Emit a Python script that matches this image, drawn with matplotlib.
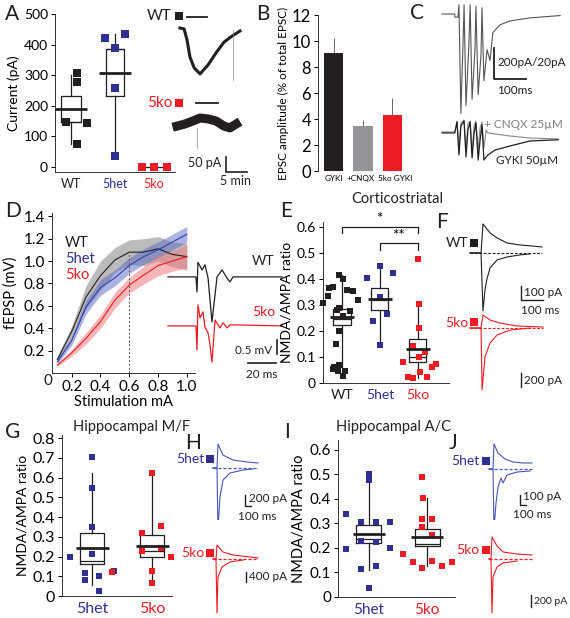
import numpy as np
import matplotlib
matplotlib.use("Agg")
import matplotlib.pyplot as plt

W, H = 570, 618
BLACK = "#231f20"
BLUE = "#2e3192"
RED = "#ed1c24"
GREY = "#939598"
TBLUE = "#4a55b8"

plt.rcParams['font.family'] = ['Lato', 'DejaVu Sans']

# ---- A: current per genotype
a_names = ["WT", "5het", "5ko"]
a_wt = [307, 278, 147, 144, 75]
a_het = [422, 435, 389, 258, 36]
a_ko = [0, 0, 0]
a_q1 = [147, 232]
a_q3 = [232, 386]
a_lo = [75, 36]
a_hi = [300, 434]

# A inset time course (min, pA)
a_wt_t = [9.5, 10.5, 11.2, 11.9, 12.9, 14.3, 16.2, 18.1, 20.0, 21.9, 23.8]
a_wt_i = [0, -3, -40, -97, -133, -153, -123, -83, -47, -27, -10]
a_ko_t = [8.8, 10.7, 12.6, 14.3, 16.2, 18.1, 20.0, 21.4, 22.9]
a_ko_i = [-327, -320, -310, -300, -303, -310, -327, -333, -320]

# ---- B: EPSC amplitude
b_names = ["GYKI", "+CNQX", "5ko GYKI"]
b_vals = [9.1, 3.45, 4.3]
b_err = [1.1, 0.45, 1.3]

# ---- C: trains (ms, pA)
c_t = [0, 40, 40, 50, 53, 59, 66, 69, 75, 84, 88, 94, 103, 106, 113, 122, 125, 131, 141, 150, 159, 181, 212, 275, 369]
c_i = [0, 0, -20, -20, 60, -640, -170, 60, -590, -200, 60, -550, -230, 50, -520, -260, 40, -430, -230, -300, -120, -70, -45, -25, -10]
c_low_t = [0, 40, 47, 53, 59, 69, 75, 81, 88, 94, 100, 106, 113, 119, 125, 131, 138, 144, 166, 213, 275, 363]
c_cnqx = [0, 0, 7.1, -11.6, 5.8, 7.7, -12.9, 5.2, 7.1, -13.5, 3.9, 7.1, -11.6, 2.6, 6.5, -10.3, 1.3, -0.6, -1.3, -2.6, -3.9, -4.5]
c_gyki = [-0.6, -0.6, 6.5, -14.8, 3.9, 7.1, -16.1, 1.3, 6.5, -16.8, -1.3, 5.8, -18.1, -5.2, 4.5, -18.1, -16.1, -14.8, -11.6, -9.0, -5.8, -5.0]

# ---- D: input-output curves
d_x = [0.1, 0.2, 0.3, 0.4, 0.5, 0.6, 0.7, 0.8, 0.9, 1.0]
d_wt = [0.12, 0.37, 0.68, 0.87, 1.01, 1.08, 1.08, 1.11, 1.06, 1.04]
d_wt_sem = [0.03, 0.05, 0.10, 0.13, 0.11, 0.11, 0.12, 0.11, 0.11, 0.12]
d_het = [0.10, 0.29, 0.59, 0.765, 0.85, 0.96, 1.04, 1.10, 1.17, 1.24]
d_het_sem = [0.02, 0.04, 0.06, 0.07, 0.07, 0.07, 0.07, 0.07, 0.07, 0.07]
d_ko = [0.07, 0.18, 0.31, 0.46, 0.65, 0.785, 0.875, 0.96, 1.00, 1.04]
d_ko_sem = [0.01, 0.03, 0.05, 0.06, 0.07, 0.07, 0.08, 0.09, 0.09, 0.10]
# D inset fEPSP (ms, mV)
d_wt_t = [0, 20, 20.7, 21.4, 24.3, 26.4, 28.6, 31.4, 35, 38.6, 42.1, 44.3, 46.4, 81.4]
d_wt_v = [0, 0, -0.54, 0.52, 0.25, 0.43, -0.04, -1.61, 0, 0.25, -0.04, -0.18, 0, 0]
d_ko_t = [0, 20, 20.7, 21.4, 22.9, 25, 26.4, 28.6, 30, 31.4, 33.6, 37.1, 39.3, 42.1, 44.3, 81.4]
d_ko_v = [0, 0, -0.86, 0.75, 0.29, 0.5, -0.04, -0.25, -0.68, -1.29, 0.21, -0.07, 0.11, -0.07, 0.04, 0]

# ---- E: corticostriatal NMDA/AMPA
e_names = ["WT", "5het", "5ko"]
e_wt = [0.415, 0.40, 0.37, 0.365, 0.358, 0.355, 0.335, 0.32, 0.31, 0.29, 0.28,
        0.276, 0.257, 0.20, 0.15, 0.07, 0.062, 0.054, 0.047, 0.047, 0.028]
e_het = [0.45, 0.405, 0.423, 0.33, 0.265, 0.24, 0.145]
e_ko = [0.477, 0.304, 0.212, 0.142, 0.118, 0.10, 0.08, 0.073, 0.063, 0.043, 0.022, 0.02, 0.022]
e_q1 = [0.223, 0.28, 0.081]
e_med = [0.245, 0.32, 0.10]
e_q3 = [0.285, 0.365, 0.17]
e_mean = [0.253, 0.323, 0.13]
e_lo = [0.028, 0.145, 0.02]
e_hi = [0.415, 0.45, 0.304]

# F traces (ms, pA)
f_t_up = [0, 50, 59, 91, 123, 168, 227, 327]
f_wt_up = [0, 0, 207, 143, 107, 71, 57, 43]
f_t_dn = [0, 50, 59, 68, 77, 91, 123, 168, 227, 273]
f_wt_dn = [0, 0, -414, -264, -186, -107, -50, -29, -14, -7]
f_ko_t_up = [0, 50, 59, 91, 136, 214, 332]
f_ko_up = [0, 0, 186, 114, 71, 29, 14]
f_ko_t_dn = [0, 50, 55, 68, 91, 123, 182, 273]
f_ko_dn = [0, 0, -886, -414, -214, -100, -29, 0]

# ---- G: hippocampal M/F
g_names = ["5het", "5ko"]
g_het = [0.706, 0.547, 0.352, 0.215, 0.197, 0.117, 0.083, 0.10, 0.125, 0.024]
g_ko = [0.625, 0.32, 0.355, 0.23, 0.243, 0.197, 0.12, 0.125, 0.068]
g_q1 = [0.16, 0.197]
g_med = [0.175, 0.228]
g_q3 = [0.318, 0.31]
g_mean = [0.245, 0.255]
g_lo = [0.055, 0.068]
g_hi = [0.625, 0.625]

# H traces (ms, pA)
h_het_t_up = [0, 67, 83, 167, 333, 567, 750]
h_het_up = [0, 0, 436, 236, 145, 109, 91]
h_het_t_dn = [0, 67, 83, 117, 167, 283, 500, 667]
h_het_dn = [0, 0, -1109, -527, -218, -91, -36, -18]
h_ko_t_up = [0, 50, 67, 167, 333, 617, 750]
h_ko_up = [0, 0, 560, 280, 160, 80, 40]
h_ko_t_dn = [0, 50, 67, 83, 150, 283, 500]
h_ko_dn = [0, 0, -2160, -720, -320, -120, -40]

# ---- I: hippocampal A/C
i_het = [0.502, 0.475, 0.339, 0.306, 0.306, 0.306, 0.23, 0.225, 0.196, 0.20, 0.126, 0.114, 0.036]
i_ko = [0.49, 0.404, 0.32, 0.316, 0.287, 0.252, 0.175, 0.144, 0.146, 0.118, 0.127, 0.142]
i_q1 = [0.22, 0.208]
i_med = [0.237, 0.215]
i_q3 = [0.294, 0.278]
i_mean = [0.257, 0.244]
i_lo = [0.11, 0.126]
i_hi = [0.475, 0.405]

# J traces (ms, pA)
j_het_t_up = [0, 67, 83, 150, 267, 400, 567, 717]
j_het_up = [0, 0, 250, 160, 100, 70, 60, 60]
j_het_t_dn = [0, 67, 83, 117, 150, 200, 233, 300, 467, 683]
j_het_dn = [0, 0, -600, -340, -180, -90, -140, -60, -30, -20]
j_ko_t_up = [0, 33, 50, 133, 233, 467, 717]
j_ko_up = [0, 0, 367, 217, 117, 83, 67]
j_ko_t_dn = [0, 33, 50, 67, 133, 233, 467]
j_ko_dn = [0, 0, -900, -300, -133, -67, -33]


fig = plt.figure(figsize=(W / 100, H / 100), dpi=100)


def px_axes(l, t, r, b):
    ax = fig.add_axes([l / W, 1 - b / H, (r - l) / W, (b - t) / H])
    ax.patch.set_visible(False)
    return ax


def trace_ax(l, t, r, b, xlim, ylim):
    ax = px_axes(l, t, r, b)
    ax.set_xlim(*xlim)
    ax.set_ylim(*ylim)
    ax.axis('off')
    return ax


def style(ax, size=10):
    for s in ['top', 'right']:
        ax.spines[s].set_visible(False)
    for s in ['left', 'bottom']:
        ax.spines[s].set_linewidth(0.7)
        ax.spines[s].set_color('#333333')
    ax.tick_params(direction='out', length=3, width=0.7, labelsize=size, pad=2)


def cat_ticks(ax, pos, names, colors, size):
    ax.set_xticks(pos)
    ax.set_xticklabels(names, fontsize=size)
    for lbl, c in zip(ax.get_xticklabels(), colors):
        lbl.set_color(c)
    ax.tick_params(axis='x', length=0, pad=4)


def boxes(ax, pos, q1, med, q3, lo, hi, width, means, mwidth):
    stats = [dict(q1=a, med=m, q3=b, whislo=l, whishi=h, fliers=[])
             for a, m, b, l, h in zip(q1, med, q3, lo, hi)]
    lp = dict(color=BLACK, lw=0.9)
    ax.bxp(stats, positions=pos, widths=width, showfliers=False, showcaps=False,
           boxprops=lp, whiskerprops=lp, medianprops=lp, manage_ticks=False)
    pos = np.asarray(pos)
    ax.hlines(means, pos - mwidth / 2, pos + mwidth / 2, color=BLACK, lw=2, zorder=4)


def dots(ax, x0, offs, vals, color, s=20):
    ax.scatter(x0 + np.asarray(offs), vals, marker='s', s=s, color=color,
               linewidths=0, zorder=3, clip_on=False)


# ================= A
ax = px_axes(55, 14, 175, 172)
style(ax, 10)
a_pos = [0, 1, 1.87]
ax.set_xlim(-0.36, 2.36)
ax.set_ylim(-16, 500)
ax.set_yticks(range(0, 501, 100))
boxes(ax, a_pos[:2], a_q1, [a_q1[0], a_q3[1]], a_q3, a_lo, a_hi, [0.46, 0.4],
      [np.mean(a_wt), np.mean(a_het)], 0.74)
ax.plot(a_pos[2] + np.array([-0.25, 0.02, 0.32]), a_ko, color=BLACK, lw=0.9, zorder=2)
dots(ax, a_pos[0], [0.14, 0.14, -0.1, 0.37, 0.14], a_wt, BLACK, 30)
dots(ax, a_pos[1], [-0.23, 0.23, 0, 0, 0], a_het, BLUE, 30)
dots(ax, a_pos[2], [-0.25, 0.02, 0.32], a_ko, RED, 30)
cat_ticks(ax, a_pos, a_names, [BLACK, BLUE, RED], 9)
ax.set_ylabel("Current (pA)", fontsize=10, labelpad=3)

# A inset
ax = trace_ax(130, 5, 260, 190, (-2.38, 28.57), (-540, 76.7))
ax.plot(a_wt_t, a_wt_i, color=BLACK, lw=2.2, solid_joinstyle='round')
ax.plot([22.1, 22.1], [-7, -173], color='#888888', lw=0.5)
ax.plot([11.2, 16.0], [37, 37], color=BLACK, lw=1.3)
ax.plot(a_ko_t, a_ko_i, color=BLACK, lw=6.5, solid_joinstyle='round')
ax.plot([13.6, 13.6], [-333, -400], color='#888888', lw=0.5)
ax.plot([13.3, 18.6], [-250, -250], color=BLACK, lw=1.3)
ax.plot([20.5, 20.5, 25.5], [-430, -480, -480], color=BLACK, lw=1.2)

# ================= B
ax = px_axes(318, 15, 410, 171)
style(ax, 12)
ax.spines['bottom'].set_visible(False)
ax.bar([0, 1, 2], b_vals, width=0.66, color=[BLACK, GREY, RED])
ax.errorbar([0, 1, 2], b_vals, yerr=[[0, 0, 0], b_err], fmt='none',
            ecolor='#666666', elinewidth=0.7, capsize=0)
ax.set_xlim(-0.53, 2.6)
ax.set_ylim(0, 12)
ax.set_yticks(range(0, 13, 2))
ax.set_xticks([0, 0.92, 2.1])
ax.set_xticklabels(b_names, fontsize=5.9)
ax.tick_params(axis='x', length=0, pad=3)
ax.set_ylabel("EPSC amplitude (% of total EPSC)", fontsize=8.5, labelpad=2)

# ================= C
ax = trace_ax(430, 0, 565, 120, (-37.5, 384.4), (-683.9, 90.3))
ax.plot(c_t, c_i, color='#555555', lw=0.8)
ax.plot([162.5, 162.5, 262.5], [-219, -419, -419], color=BLACK, lw=1.3)
ax = trace_ax(430, 112, 565, 165, (-37.5, 384.4), (-21.3, 12.9))
ax.plot(c_low_t, c_cnqx, color='#8a8a8a', lw=0.8)
ax.plot(c_low_t, c_gyki, color=BLACK, lw=0.9)

# ================= D
ax = px_axes(52, 213, 195, 373)
style(ax, 11)
ax.set_xlim(0.063, 1.057)
ax.set_ylim(0, 1.43)
ax.fill_between(d_x, np.subtract(d_wt, d_wt_sem), np.add(d_wt, d_wt_sem), color='#8f8f8f', alpha=0.6, lw=0)
ax.fill_between(d_x, np.subtract(d_het, d_het_sem), np.add(d_het, d_het_sem), color='#5a66c4', alpha=0.5, lw=0)
ax.fill_between(d_x, np.subtract(d_ko, d_ko_sem), np.add(d_ko, d_ko_sem), color='#f07a7e', alpha=0.55, lw=0)
ax.plot(d_x, d_wt, color=BLACK, lw=0.8)
ax.plot(d_x, d_het, color='#3340a8', lw=0.8)
ax.plot(d_x, d_ko, color=RED, lw=0.8)
ax.vlines(0.6, 0, d_wt[5], color='#555555', lw=0.7, linestyles=(0, (2, 2)))
ax.set_yticks(np.arange(0.2, 1.41, 0.2))
ax.set_yticklabels([f"{v:.1f}" for v in np.arange(0.2, 1.41, 0.2)])
ax.set_xticks([0.2, 0.4, 0.6, 0.8, 1.0])
ax.set_xticklabels(["0.2", "0.4", "0.6", "0.8", "1.0"])
ax.set_xlabel("Stimulation mA", fontsize=10.5, labelpad=1)
ax.set_ylabel("fEPSP (mV)", fontsize=10.5, labelpad=4)

# D inset
ax = trace_ax(160, 250, 290, 380, (-5.7, 87.1), (-3.68, 0.96))
ax.plot(d_wt_t, d_wt_v, color=BLACK, lw=0.9)
ax.plot(d_ko_t, np.subtract(d_ko_v, 1.75), color=RED, lw=0.9)
ax.plot([77.9, 77.9], [-2.25, -2.75], color=BLACK, lw=1.2)
ax.plot([57.1, 77.1], [-3.07, -3.07], color=BLACK, lw=1.2)

# ================= E
ax = px_axes(323, 222, 449, 383)
style(ax, 10)
ax.set_xlim(-0.5, 2.82)
ax.set_ylim(0, 0.62)
ax.set_yticks(np.arange(0, 0.61, 0.1))
ax.set_yticklabels(["0", "0.1", "0.2", "0.3", "0.4", "0.5", "0.6"])
boxes(ax, [0, 1, 2], e_q1, e_med, e_q3, e_lo, e_hi, 0.45, e_mean, 0.62)
dots(ax, 0, [-0.08, 0.03, -0.24, -0.34, 0.13, 0.29, -0.37, 0.42, -0.5, -0.08, -0.13,
             0.21, 0.03, -0.08, -0.16, -0.08, -0.21, -0.24, -0.11, 0.08, 0.03], e_wt, BLACK)
dots(ax, 1, [0, -0.34, 0.34, 0, 0.18, -0.18, 0], e_het, BLUE)
dots(ax, 2, [0, 0.03, 0.03, -0.13, 0.18, 0.03, -0.39, 0.47, 0.37, 0.05, -0.26, -0.13, 0.24], e_ko, RED)
cat_ticks(ax, [0, 1, 2], e_names, [BLACK, BLUE, RED], 10)
ax.set_ylabel("NMDA/AMPA ratio", fontsize=10, labelpad=3)
ax.plot([0, 0, 2, 2], [0.577, 0.6, 0.6, 0.577], color=BLACK, lw=0.9, clip_on=False)
ax.plot([1, 1, 2, 2], [0.512, 0.538, 0.538, 0.512], color=BLACK, lw=0.9, clip_on=False)
ax.text(0.97, 0.603, "*", ha='center', va='bottom', fontsize=11)
ax.text(1.5, 0.541, "**", ha='center', va='bottom', fontsize=11)

# F traces
ax = trace_ax(460, 215, 560, 320, (-45.5, 409), (-479, 271))
ax.plot(f_t_up, f_wt_up, color=BLACK, lw=0.8)
ax.plot(f_t_dn, f_wt_dn, color=BLACK, lw=0.8)
ax.plot([0, 327], [0, 0], color=BLACK, lw=0.8, ls=(0, (2.5, 1.5)))
ax.plot([232, 232, 332], [-236, -336, -336], color=BLACK, lw=1.0)
ax = trace_ax(460, 305, 560, 400, (-45.5, 409), (-1029, 329))
ax.plot(f_ko_t_up, f_ko_up, color=RED, lw=0.8)
ax.plot(f_ko_t_dn, f_ko_dn, color=RED, lw=0.8)
ax.plot([0, 332], [0, 0], color=RED, lw=0.8, ls=(0, (2.5, 1.5)))
ax.plot([232, 232], [-643, -843], color=BLACK, lw=1.0)

# ================= G
ax = px_axes(62, 435, 172, 596)
style(ax, 11.5)
ax.set_xlim(-0.5, 1.33)
ax.set_ylim(0, 0.816)
ax.set_yticks(np.arange(0, 0.81, 0.1))
ax.set_yticklabels(["0", "0.1", "0.2", "0.3", "0.4", "0.5", "0.6", "0.7", "0.8"])
boxes(ax, [0, 1], g_q1, g_med, g_q3, g_lo, g_hi, 0.4, g_mean, 0.55)
dots(ax, 0, [0, 0, 0, 0, -0.37, -0.12, -0.12, 0.12, 0.37, 0.12], g_het, BLUE)
dots(ax, 1, [0, -0.17, 0.15, -0.17, 0.15, 0.32, -0.67, 0, 0], g_ko, RED)
cat_ticks(ax, [0, 1], g_names, [BLUE, RED], 11.5)
ax.set_ylabel("NMDA/AMPA ratio", fontsize=10, labelpad=3)

# H traces
ax = trace_ax(205, 435, 265, 520, (-133, 867), (-945, 600))
ax.plot(h_het_t_up, h_het_up, color=TBLUE, lw=0.8)
ax.plot(h_het_t_dn, h_het_dn, color=TBLUE, lw=0.8)
ax.plot([0, 750], [0, 0], color=TBLUE, lw=0.9, ls=(0, (2.5, 1.5)))
ax.plot([533, 533, 633], [-491, -691, -691], color=BLACK, lw=1.0)
ax = trace_ax(205, 535, 265, 618, (-133, 867), (-2360, 960))
ax.plot(h_ko_t_up, h_ko_up, color=RED, lw=0.8)
ax.plot(h_ko_t_dn, h_ko_dn, color=RED, lw=0.8)
ax.plot([0, 750], [0, 0], color=RED, lw=0.9, ls=(0, (2.5, 1.5)))
ax.plot([550, 550], [-520, -920], color=BLACK, lw=1.0)

# ================= I
ax = px_axes(338, 440, 455, 597)
style(ax, 11)
ax.set_xlim(-0.53, 1.48)
ax.set_ylim(0, 0.64)
ax.set_yticks(np.arange(0, 0.61, 0.1))
ax.set_yticklabels(["0", "0.1", "0.2", "0.3", "0.4", "0.5", "0.6"])
boxes(ax, [0, 1], i_q1, i_med, i_q3, i_lo, i_hi, 0.43, i_mean, 0.55)
dots(ax, 0, [0, 0, -0.4, -0.14, 0.12, 0.36, -0.14, 0.12, -0.4, 0.36, 0.12, -0.14, 0], i_het, BLUE)
dots(ax, 1, [-0.09, -0.07, -0.09, 0.09, -0.09, 0.09, -0.41, -0.24, 0.09, -0.09, 0.26, 0.43], i_ko, RED)
cat_ticks(ax, [0, 1], g_names, [BLUE, RED], 11)
ax.set_ylabel("NMDA/AMPA ratio", fontsize=10.5, labelpad=3)

# J traces
ax = trace_ax(480, 435, 560, 520, (-150, 1183), (-510, 340))
ax.plot(j_het_t_up, j_het_up, color=TBLUE, lw=0.8)
ax.plot(j_het_t_dn, j_het_dn, color=TBLUE, lw=0.8)
ax.plot([0, 717], [0, 0], color=TBLUE, lw=0.9, ls=(0, (2.5, 1.5)))
ax.plot([517, 517, 617], [-260, -360, -360], color=BLACK, lw=1.0)
ax = trace_ax(480, 530, 560, 618, (-150, 1183), (-983, 483))
ax.plot(j_ko_t_up, j_ko_up, color=RED, lw=0.8)
ax.plot(j_ko_t_dn, j_ko_dn, color=RED, lw=0.8)
ax.plot([0, 717], [0, 0], color=RED, lw=0.9, ls=(0, (2.5, 1.5)))
ax.plot([700, 700], [-600, -800], color=BLACK, lw=1.0)

# ================= overlay text
ov = fig.add_axes([0, 0, 1, 1], zorder=10)
ov.set_xlim(0, W)
ov.set_ylim(H, 0)
ov.axis('off')


def txt(x, y, s, size=10, color=BLACK, ha='left', **kw):
    ov.text(x, y, s, fontsize=size, color=color, ha=ha, va='center', **kw)


def sq(x, y, color):
    ov.plot(x, y, 's', color=color, ms=6, mew=0)


for x, y, s in [(5, 14, "A"), (256, 14, "B"), (410, 13, "C"), (5, 211, "D"), (280, 211, "E"),
                (436, 222, "F"), (5, 432, "G"), (185, 443, "H"), (284, 432, "I"), (449, 443, "J")]:
    txt(x, y, s, size=15)

txt(397, 199, "Corticostriatal", 10.5, ha='center')
txt(132, 427, "Hippocampal M/F", 10.5, ha='center')
txt(393, 427, "Hippocampal A/C", 10.5, ha='center')

# A inset labels
txt(172, 16, "WT", 11, ha='right')
sq(179, 16, BLACK)
txt(172, 103, "5ko", 11, RED, ha='right')
sq(179, 103, RED)
txt(221, 163, "50 pA", 9, ha='right')
txt(236, 181, "5 min", 9, ha='center')

# C labels
txt(497, 63, "200pA/20pA", 8.5)
txt(497, 90, "100ms", 8.5)
txt(484, 124, "+ CNQX 25µM", 8.5, '#808080')
txt(496, 160, "GYKI 50µM", 8.5)

# D labels
txt(65, 243, "WT", 10.5)
txt(65, 259, "5het", 10.5, BLUE)
txt(65, 275, "5ko", 10.5, RED)
txt(252, 261, "WT", 10)
txt(252, 312, "5ko", 10, RED)
txt(272, 351, "0.5 mV", 8.5, ha='right')
txt(262, 375, "20 ms", 8.5, ha='center')
txt(48, 381, "0", 11, ha='center')

# F labels
txt(468, 243, "WT", 10, ha='right')
sq(474, 243, BLACK)
txt(468, 323, "5ko", 10, RED, ha='right')
sq(474, 322, RED)
txt(524, 292, "100 pA", 8.5)
txt(521, 310, "100 ms", 8.5)
txt(524, 380, "200 pA", 8.5)

# H labels
txt(204, 459, "5het", 10, BLUE, ha='right')
sq(210, 459, BLUE)
txt(204, 553, "5ko", 10, RED, ha='right')
sq(210, 553, RED)
txt(249, 499, "200 pA", 8.5)
txt(238, 516, "100 ms", 8.5)
txt(249, 577, "400 pA", 8.5)

# J labels
txt(479, 461, "5het", 10, BLUE, ha='right')
sq(486, 461, BLUE)
txt(479, 550, "5ko", 10, RED, ha='right')
sq(486, 550, RED)
txt(523, 497, "100 pA", 8.5)
txt(513, 514, "100 ms", 8.5)
txt(534, 601, "200 pA", 7.5)

fig.savefig("out.png", dpi=100)
